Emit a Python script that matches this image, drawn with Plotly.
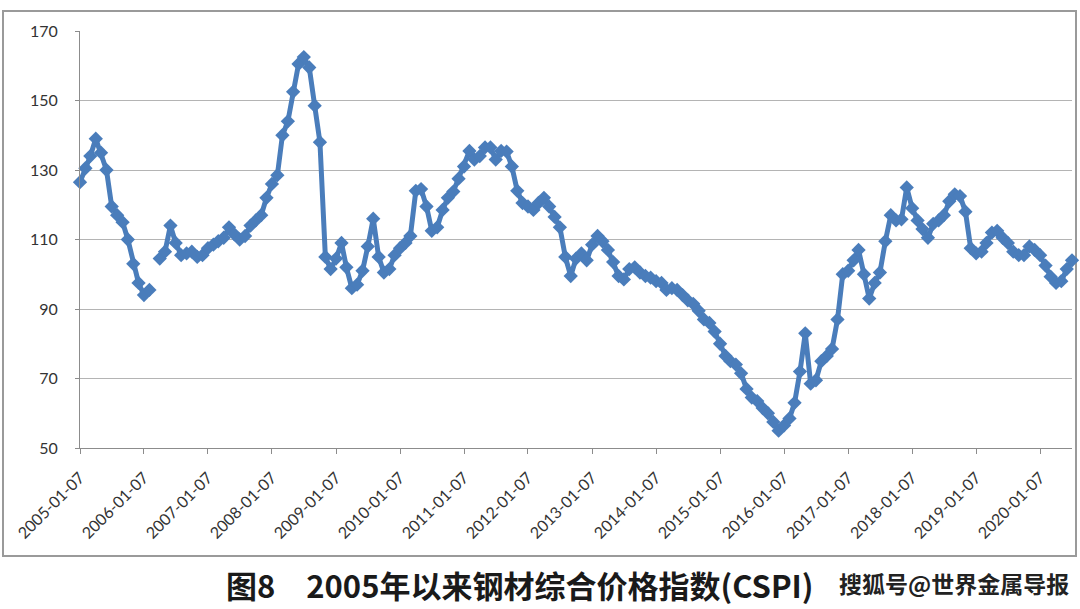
import plotly.graph_objects as go

# CSPI monthly readings (value near the 7th of each month)
v2005 = [126.5, 130.5, 134, 139, 135, 130, 119.5, 117, 115, 110, 103, 97.5]
v2006 = [94, 95.5, None, 104.5, 106.5, 114, 109, 105.5, 106, 106.5, 105, 105.5]
v2007 = [107.5, 108.5, 109.5, 110.5, 113.5, 111.5, 110, 111, 114, 115.5, 117, 122]
v2008 = [126, 128.5, 140, 144, 152.5, 160.5, 162.5, 159.5, 148.5, 138, 105, 101.5]
v2009 = [104.5, 109, 102, 96, 97, 101, 108, 116, 105, 100.5, 101.5, 105.5]
v2010 = [107.5, 109, 111, 124, 124.5, 119.5, 112.5, 113.5, 118.5, 122, 123.8, 127.5]
v2011 = [131, 135.5, 133, 134, 136.5, 136.5, 133, 135.5, 135.3, 131, 124, 120.5]
v2012 = [119.5, 118.5, 120.5, 122, 119.5, 116.5, 113.5, 105, 99.5, 104.5, 106, 104]
v2013 = [108.5, 111, 109.5, 107, 103.5, 99.5, 98.5, 101.5, 102, 100.5, 99.5, 99]
v2014 = [98, 97.5, 95.5, 96, 95.5, 94, 92.5, 91.5, 89.5, 87, 86, 83.5]
v2015 = [80, 76.5, 75, 74, 71.5, 67, 64.5, 63.5, 61.5, 60, 57.5, 55]
v2016 = [56.5, 58.5, 63, 72, 83, 68.5, 69.5, 75, 76.5, 78.5, 87, 100]
v2017 = [101, 104, 107, 100, 93, 97.5, 100.5, 109.5, 117, 115.5, 115.8, 125]
v2018 = [119, 115.5, 113, 110.5, 114.5, 115.5, 117, 121, 123, 122.5, 118, 107.5]
v2019 = [106, 106.5, 109, 112, 112.5, 110.5, 109, 106.5, 105.5, 105.5, 108, 107]
v2020 = [105.5, 102.5, 99.3, 97.5, 98, 101.5, 104]

years = list(range(2005, 2021))
series = [v2005, v2006, v2007, v2008, v2009, v2010, v2011, v2012,
          v2013, v2014, v2015, v2016, v2017, v2018, v2019, v2020]

dates, values = [], []
for y, vals in zip(years, series):
    for m, v in enumerate(vals, start=1):
        dates.append(f"{y}-{m:02d}-07")
        values.append(v)

caption = "图8　2005年以来钢材综合价格指数(CSPI)"
watermark = "搜狐号@世界金属导报"

BLUE = "#4a7dbb"
GRID = "#b4b4b4"
TXT = "#333333"

fig = go.Figure()
fig.add_trace(go.Scatter(
    x=dates, y=values, mode="lines+markers",
    line=dict(color=BLUE, width=5),
    marker=dict(symbol="diamond", size=11, color=BLUE),
    connectgaps=False, cliponaxis=False, showlegend=False,
))

fig.update_layout(
    width=1080, height=609,
    margin=dict(l=80, r=8, t=31, b=161),
    paper_bgcolor="white", plot_bgcolor="white",
    font=dict(family="Lato, 'Liberation Sans', sans-serif", size=16, color=TXT),
    xaxis=dict(
        type="date", range=["2005-01-07", "2020-07-07"],
        tick0="2005-01-07", dtick="M12", tickformat="%Y-%m-%d",
        tickangle=-45, ticks="outside", ticklen=5, tickcolor="#8c8c8c",
        showgrid=False, showline=True, linecolor="#8c8c8c", linewidth=1,
        ticklabelstandoff=8, zeroline=False,
        tickfont=dict(size=16, color=TXT),
    ),
    yaxis=dict(
        range=[50, 170], tick0=50, dtick=20,
        ticks="outside", ticklen=4, tickcolor="#8c8c8c",
        showgrid=True, gridcolor=GRID, gridwidth=1,
        showline=True, linecolor="#8c8c8c", linewidth=1,
        ticklabelstandoff=14, zeroline=False,
        tickfont=dict(size=16, color=TXT),
    ),
    shapes=[dict(type="rect", xref="paper", yref="paper",
                 x0=(3 - 80) / 992, x1=(1076 - 80) / 992,
                 y0=(448 - 556) / 417, y1=(448 - 11) / 417,
                 line=dict(color="#9a9a9a", width=2), fillcolor="rgba(0,0,0,0)",
                 layer="below")],
    annotations=[
        dict(text=caption, xref="paper", yref="paper",
             x=(520 - 80) / 992, y=(448 - 584) / 417,
             xanchor="center", yanchor="middle", showarrow=False,
             font=dict(family="Noto Sans CJK SC", size=31, color="#1a1a1a", weight="bold")),
        dict(text=watermark, xref="paper", yref="paper",
             x=(1071 - 80) / 992, y=(448 - 583) / 417,
             xanchor="right", yanchor="middle", showarrow=False,
             font=dict(family="Noto Sans CJK SC", size=23, color="#222222", weight="bold")),
    ],
)

fig.write_html("out.html")
